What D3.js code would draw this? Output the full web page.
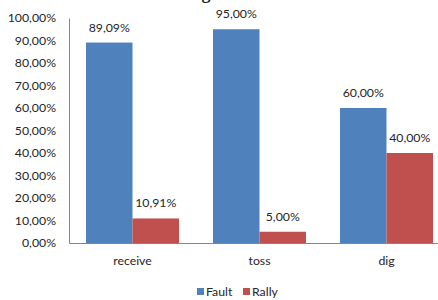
<!DOCTYPE html>
<html>
<head>
<meta charset="utf-8">
<script src="https://cdn.jsdelivr.net/npm/d3@7"></script>
<style>
  body { margin: 0; background: #fff; }
  svg { display: block; }
  text { font-family: Lato, "Open Sans", sans-serif; fill: #262626; }
</style>
</head>
<body>
<div id="chart"></div>
<script>
// data
let categories = ['receive', 'toss', 'dig'];
let seriesNames = ['Fault', 'Rally'];
let faultValues = [89.09, 95.00, 60.00];
let rallyValues = [10.91, 5.00, 40.00];
let yTicks = [0, 10, 20, 30, 40, 50, 60, 70, 80, 90, 100];
let colors = ['#4F81BD', '#C0504D'];

let W = 438, H = 300;
let margin = {top: 18, left: 69, bottom: 57};
let plotW = 381; // plot runs past the right edge (picture is cropped)
let fs = '12.3px';

let svg = d3.select('#chart').append('svg')
    .attr('width', W)
    .attr('height', H);

// cropped title, only the descender shows
svg.append('text')
    .attr('x', 206)
    .attr('y', -1)
    .attr('text-anchor', 'middle')
    .style('font-family', '"Liberation Serif", serif')
    .style('font-weight', 'bold')
    .style('font-size', '18px')
    .text('g');

let y = d3.scaleLinear()
    .domain([0, 100])
    .range([H - margin.bottom, margin.top]);

let x0 = d3.scaleBand()
    .domain(categories)
    .range([margin.left, margin.left + plotW])
    .paddingInner(34 / 127)
    .paddingOuter(17 / 127);

let x1 = d3.scaleBand()
    .domain(seriesNames)
    .range([0, x0.bandwidth()]);

let fmt = function (v) {
    return d3.format('.2f')(v).replace('.', ',') + '%';
};

// y axis
let yAxis = d3.axisLeft(y)
    .tickValues(yTicks)
    .tickSize(0)
    .tickPadding(13)
    .tickFormat(fmt);

let gy = svg.append('g')
    .attr('transform', 'translate(' + margin.left + ',0)')
    .call(yAxis);
gy.select('.domain').attr('stroke', '#868686');
gy.selectAll('text').style('font-size', fs).style('fill', '#262626');

// x axis
let xAxis = d3.axisBottom(x0)
    .tickSize(0)
    .tickPadding(13);

let gx = svg.append('g')
    .attr('transform', 'translate(0,' + y(0) + ')')
    .call(xAxis);
gx.select('.domain').attr('stroke', '#868686');
gx.selectAll('text').style('font-size', fs).style('fill', '#262626');

let rows = categories.map(function (c, i) {
    return {cat: c, vals: [faultValues[i], rallyValues[i]]};
});

let groups = svg.selectAll('.grp')
    .data(rows)
    .enter().append('g')
    .attr('class', 'grp')
    .attr('transform', function (d) { return 'translate(' + x0(d.cat) + ',0)'; });

groups.selectAll('rect')
    .data(function (d) { return d.vals.map(function (v, j) { return {s: seriesNames[j], v: v, j: j}; }); })
    .enter().append('rect')
    .attr('x', function (d) { return x1(d.s); })
    .attr('width', x1.bandwidth())
    .attr('y', function (d) { return y(d.v); })
    .attr('height', function (d) { return y(0) - y(d.v); })
    .attr('fill', function (d) { return colors[d.j]; });

groups.selectAll('.lbl')
    .data(function (d) { return d.vals.map(function (v, j) { return {s: seriesNames[j], v: v}; }); })
    .enter().append('text')
    .attr('class', 'lbl')
    .attr('x', function (d) { return x1(d.s) + x1.bandwidth() / 2; })
    .attr('y', function (d) { return y(d.v) - 11; })
    .attr('text-anchor', 'middle')
    .style('font-size', fs)
    .text(function (d) { return fmt(d.v); });

// legend
let legend = svg.append('g').attr('transform', 'translate(197,292)');
let legX = [0, 46];
seriesNames.forEach(function (name, i) {
    legend.append('rect')
        .attr('x', legX[i])
        .attr('y', -4)
        .attr('width', 7)
        .attr('height', 7)
        .attr('fill', colors[i]);
    legend.append('text')
        .attr('x', legX[i] + 9)
        .attr('y', 0)
        .attr('dy', '0.35em')
        .style('font-size', fs)
        .text(name);
});
</script>
</body>
</html>
